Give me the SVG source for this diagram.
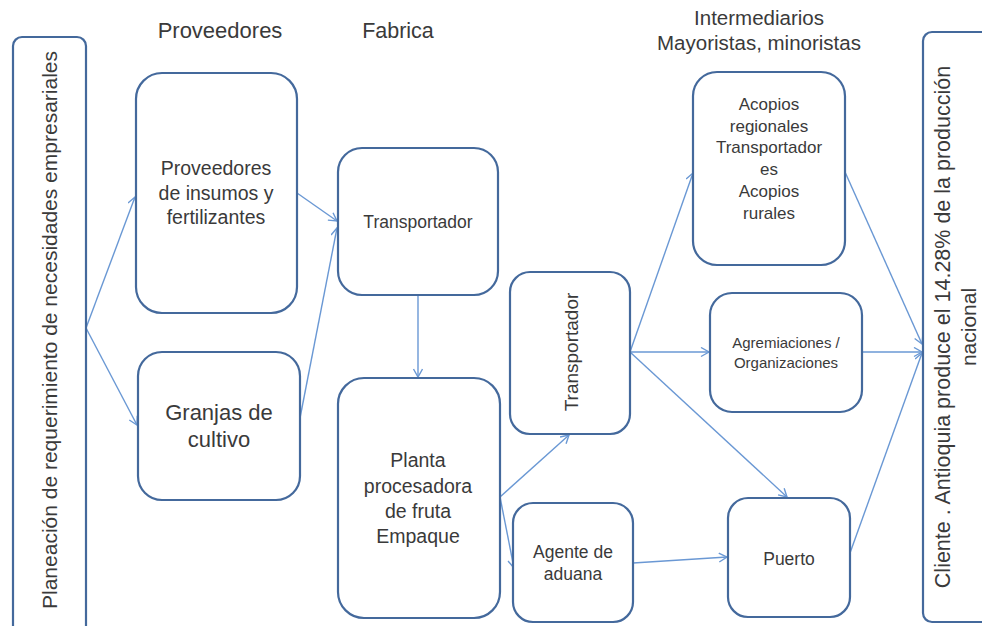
<svg xmlns="http://www.w3.org/2000/svg" width="982" height="626" viewBox="0 0 982 626">
<style>
.box{fill:#fff;stroke:#44699c;stroke-width:2.2}
.t{font-family:"Liberation Sans",Arial,sans-serif;fill:#3a3a3a;text-anchor:middle}
.c line{stroke:#6a98d4;stroke-width:1.4;fill:none}
</style>
<defs>
<marker id="ah" markerWidth="12" markerHeight="12" refX="9" refY="5" orient="auto" markerUnits="userSpaceOnUse">
<path d="M1,0.5 L9,5 L1,9.5" fill="none" stroke="#6a98d4" stroke-width="1.4"/>
</marker>
</defs>
<rect width="982" height="626" fill="#fff"/>

<g id="headers">
<text class="t" x="220" y="38" font-size="22">Proveedores</text>
<text class="t" x="398" y="38" font-size="21.5">Fabrica</text>
<text class="t" x="759" y="25" font-size="20.5">Intermediarios</text>
<text class="t" x="759" y="50" font-size="20.5">Mayoristas, minoristas</text>
</g>

<g class="c" id="connectors">
<line x1="86" y1="328" x2="135" y2="197" marker-end="url(#ah)"/>
<line x1="86" y1="328" x2="137" y2="425" marker-end="url(#ah)"/>
<line x1="297" y1="193" x2="337" y2="221" marker-end="url(#ah)"/>
<line x1="300" y1="418" x2="337" y2="228" marker-end="url(#ah)"/>
<line x1="418" y1="295" x2="418" y2="377" marker-end="url(#ah)"/>
<line x1="500" y1="497" x2="569" y2="435" marker-end="url(#ah)"/>
<line x1="500" y1="497" x2="514" y2="568" marker-end="url(#ah)"/>
<line x1="633" y1="563" x2="727" y2="557" marker-end="url(#ah)"/>
<line x1="630" y1="352" x2="693" y2="173" marker-end="url(#ah)"/>
<line x1="630" y1="352" x2="709" y2="352" marker-end="url(#ah)"/>
<line x1="630" y1="352" x2="787" y2="497" marker-end="url(#ah)"/>
<line x1="845" y1="172" x2="922" y2="344" marker-end="url(#ah)"/>
<line x1="862" y1="352" x2="922" y2="352" marker-end="url(#ah)"/>
<line x1="850" y1="553" x2="922" y2="353" marker-end="url(#ah)"/>
</g>

<g id="planeacion">
<rect class="box" x="13" y="37" width="73" height="600" rx="9"/>
<text class="t" font-size="21" transform="translate(57,330) rotate(-90)">Planeación de requerimiento de necesidades empresariales</text>
</g>

<g id="proveedores-insumos">
<rect class="box" x="136" y="73" width="161" height="240" rx="26"/>
<text class="t" x="216" y="175" font-size="19.5">Proveedores</text>
<text class="t" x="216" y="200" font-size="19.5">de insumos y</text>
<text class="t" x="216" y="224" font-size="19.5">fertilizantes</text>
</g>

<g id="granjas">
<rect class="box" x="138" y="352" width="162" height="148" rx="24"/>
<text class="t" x="219" y="420" font-size="22">Granjas de</text>
<text class="t" x="219" y="447" font-size="22">cultivo</text>
</g>

<g id="transportador-fabrica">
<rect class="box" x="338" y="148" width="160" height="147" rx="24"/>
<text class="t" x="418" y="228" font-size="17.5">Transportador</text>
</g>

<g id="planta">
<rect class="box" x="338" y="378" width="162" height="240" rx="26"/>
<text class="t" x="418" y="467" font-size="19.5">Planta</text>
<text class="t" x="418" y="493" font-size="19.5">procesadora</text>
<text class="t" x="418" y="518" font-size="19.5">de fruta</text>
<text class="t" x="418" y="543" font-size="19.5">Empaque</text>
</g>

<g id="transportador-vertical">
<rect class="box" x="510" y="272" width="120" height="162" rx="20"/>
<text class="t" font-size="19" transform="translate(578,352) rotate(-90)">Transportador</text>
</g>

<g id="agente-aduana">
<rect class="box" x="513" y="503" width="120" height="119" rx="20"/>
<text class="t" x="573" y="558" font-size="17.5">Agente de</text>
<text class="t" x="573" y="580" font-size="17.5">aduana</text>
</g>

<g id="acopios">
<rect class="box" x="693" y="72" width="152" height="193" rx="24"/>
<text class="t" x="769" y="110" font-size="17">Acopios</text>
<text class="t" x="769" y="132" font-size="17">regionales</text>
<text class="t" x="769" y="153" font-size="17">Transportador</text>
<text class="t" x="769" y="175" font-size="17">es</text>
<text class="t" x="769" y="197" font-size="17">Acopios</text>
<text class="t" x="769" y="219" font-size="17">rurales</text>
</g>

<g id="agremiaciones">
<rect class="box" x="710" y="293" width="152" height="119" rx="22"/>
<text class="t" x="786" y="348" font-size="15">Agremiaciones /</text>
<text class="t" x="786" y="368" font-size="15">Organizaciones</text>
</g>

<g id="puerto">
<rect class="box" x="728" y="498" width="122" height="119" rx="20"/>
<text class="t" x="789" y="565" font-size="17.5">Puerto</text>
</g>

<g id="cliente">
<rect class="box" x="923" y="32" width="80" height="590" rx="9"/>
<text class="t" font-size="21.5" transform="translate(950,327) rotate(-90)">Cliente . Antioquia produce el 14.28% de la producción</text>
<text class="t" font-size="21" transform="translate(976,327) rotate(-90)">nacional</text>
</g>
</svg>
